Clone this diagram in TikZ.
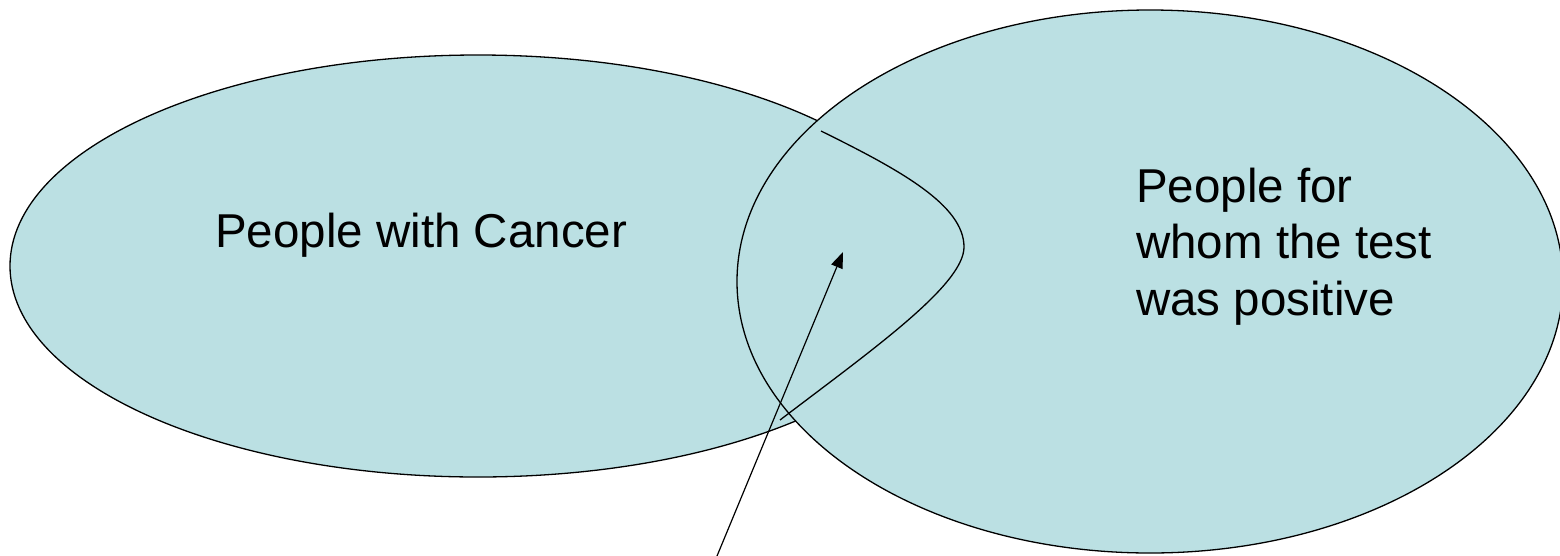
\documentclass[tikz,border=0pt]{standalone}
\usepackage{fontspec}
\setmainfont{Liberation Sans}
\usetikzlibrary{shapes.geometric,arrows.meta}
\definecolor{vennfill}{RGB}{187,224,227}
\tikzset{
  venn/.style={ellipse, draw=black, line width=1.3pt, fill=vennfill, inner sep=0pt},
  label text/.style={font=\fontsize{47.5}{56.5}\selectfont, inner sep=0pt, align=left, anchor=base west},
  pointer/.style={line width=1.2pt, -{Triangle[length=16pt,width=12pt]}},
  outline/.style={line width=1.3pt}
}
\begin{document}
\begin{tikzpicture}[x=1pt,y=-1pt]
\useasboundingbox (0,0) rectangle (1560,555);
\node[venn, minimum width=936pt, minimum height=422pt] (cancer) at (478,266) {};
\node[venn, minimum width=826pt, minimum height=543pt] (positive) at (1150,281.5) {};
\coordinate (c1) at (821,131);
\coordinate (c2) at (964,247);
\coordinate (c3) at (780,420);
\draw[outline] (c1) .. controls (900,170) and (964,205) .. (c2) .. controls (964,285) and (872,350) .. (c3);
\coordinate (tail) at (717,556);
\coordinate (tip) at (843,252);
\draw[pointer] (tail) -- (tip);
\node[label text] (lcancer) at (215,247) {People with Cancer};
\node[label text] (lpositive) at (1136,315) {People for\\whom the test\\was positive};
\end{tikzpicture}
\end{document}
